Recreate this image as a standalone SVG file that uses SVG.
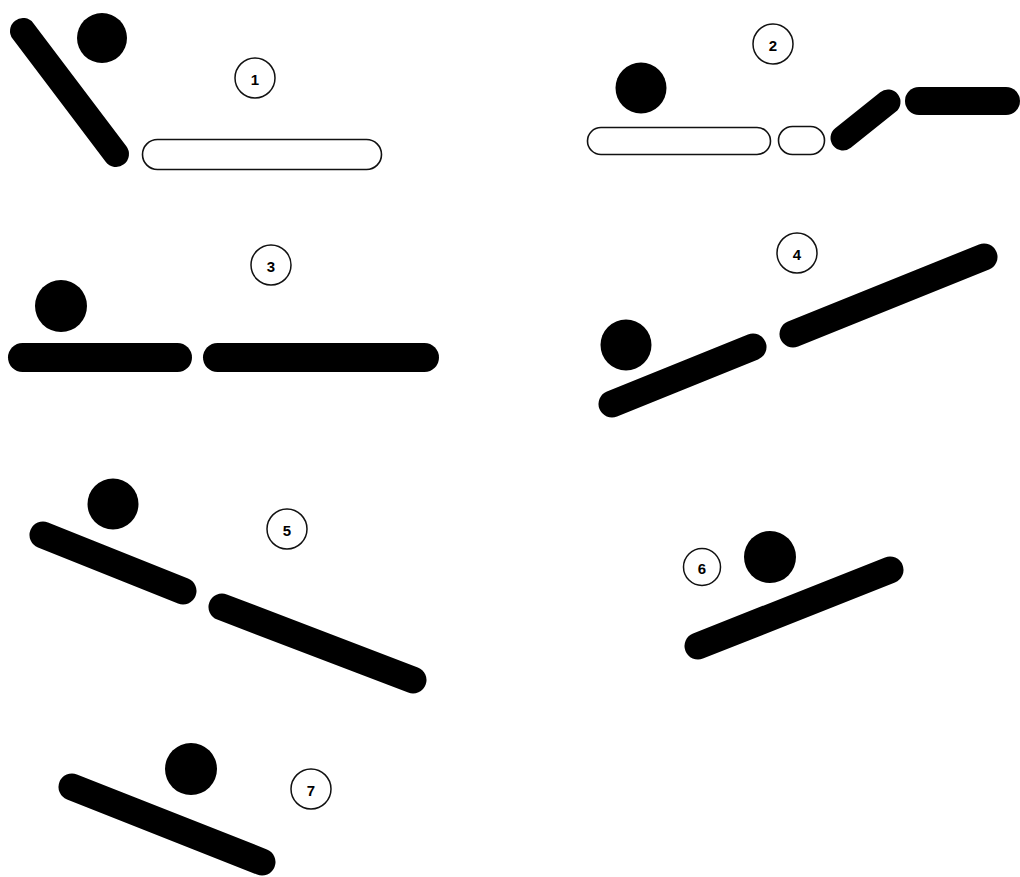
<svg xmlns="http://www.w3.org/2000/svg" width="1020" height="877" viewBox="0 0 1020 877">
<style>
.bar{stroke:#000;stroke-linecap:round;fill:none}
.open{fill:#fff;stroke:#111;stroke-width:1.6}
.ball{fill:#000}
.lc{fill:#fff;stroke:#111;stroke-width:1.5}
.lt{font-family:"Liberation Sans",Arial,sans-serif;font-weight:bold;font-size:15px;fill:#000;text-anchor:middle;dominant-baseline:central}
</style>
<rect width="1020" height="877" fill="#fff"/>
<g id="panel1">
<line class="bar" x1="23" y1="31" x2="116" y2="154" stroke-width="26"/>
<circle class="ball" cx="102" cy="38" r="25"/>
<rect class="open" x="142.5" y="139.5" width="239" height="30" rx="15"/>
<circle class="lc" cx="255" cy="78" r="20"/>
<text class="lt" x="255" y="79">1</text>
</g>
<g id="panel2">
<circle class="lc" cx="773" cy="44" r="20"/>
<text class="lt" x="773" y="45">2</text>
<circle class="ball" cx="641" cy="88" r="25.5"/>
<rect class="open" x="587.5" y="127.5" width="183" height="27" rx="13.5"/>
<rect class="open" x="778.5" y="126.5" width="46" height="28" rx="14"/>
<line class="bar" x1="843" y1="138" x2="888" y2="102" stroke-width="25"/>
<line class="bar" x1="919" y1="101" x2="1006" y2="101" stroke-width="28"/>
</g>
<g id="panel3">
<circle class="lc" cx="271" cy="265" r="20"/>
<text class="lt" x="271" y="266">3</text>
<circle class="ball" cx="61" cy="306" r="26"/>
<line class="bar" x1="22.5" y1="357.5" x2="177.5" y2="357.5" stroke-width="29"/>
<line class="bar" x1="217.5" y1="357.5" x2="424.5" y2="357.5" stroke-width="29"/>
</g>
<g id="panel4">
<circle class="lc" cx="797" cy="253" r="20"/>
<text class="lt" x="797" y="254">4</text>
<circle class="ball" cx="626" cy="345" r="25.5"/>
<line class="bar" x1="612" y1="404" x2="753" y2="347" stroke-width="27"/>
<line class="bar" x1="793" y1="334" x2="984" y2="257" stroke-width="27"/>
</g>
<g id="panel5">
<circle class="lc" cx="287" cy="529" r="20"/>
<text class="lt" x="287" y="530">5</text>
<circle class="ball" cx="113" cy="504" r="25.5"/>
<line class="bar" x1="43" y1="535" x2="183" y2="591" stroke-width="27"/>
<line class="bar" x1="222" y1="607" x2="413" y2="680" stroke-width="27"/>
</g>
<g id="panel6">
<circle class="lc" cx="702" cy="567" r="18.5"/>
<text class="lt" x="702" y="568">6</text>
<circle class="ball" cx="770" cy="557" r="26"/>
<line class="bar" x1="698" y1="646" x2="890" y2="570" stroke-width="27"/>
</g>
<g id="panel7">
<circle class="lc" cx="311" cy="789" r="20"/>
<text class="lt" x="311" y="790">7</text>
<circle class="ball" cx="191" cy="769" r="26"/>
<line class="bar" x1="72" y1="787" x2="262" y2="862" stroke-width="27"/>
</g>
</svg>
